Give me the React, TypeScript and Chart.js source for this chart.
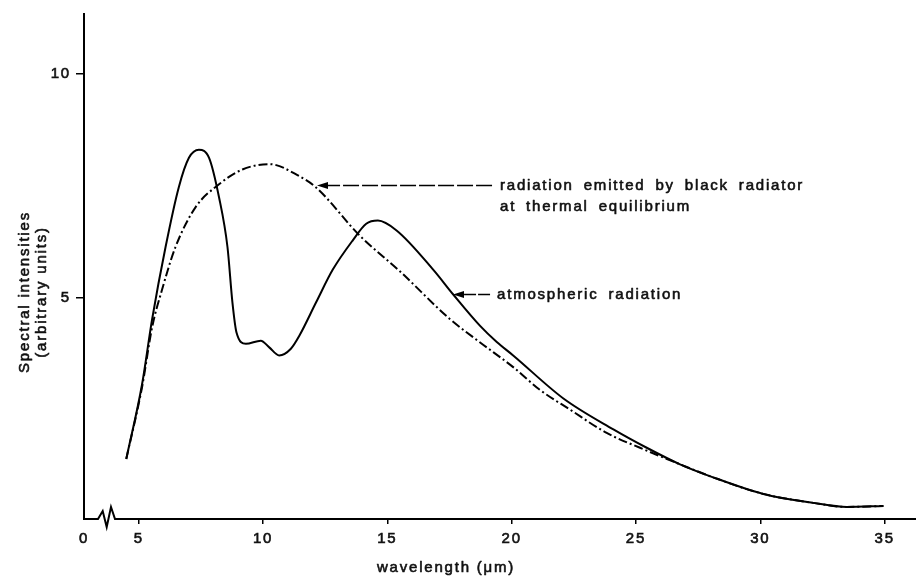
import React, { useEffect, useRef } from "react";
import { Chart, registerables } from "chart.js";

Chart.register(...registerables);

// ---- data ----
const ATMOS_X = [4.5, 5.13, 5.54, 6.08, 6.61, 7.02, 7.42, 7.83, 8.23, 8.57, 8.77, 8.93, 9.31, 9.91, 10.25, 10.65, 11.12, 11.46, 12.13, 12.8, 13.61, 14.15, 14.62, 15.37, 16.85, 17.65, 18.73, 19.4, 20.06, 22.08, 24.09, 25.43, 26.77, 28.1, 30.12, 32.13, 33.48, 34.95];
const ATMOS_Y = [1.41, 3.06, 4.53, 6.14, 7.47, 8.13, 8.31, 8.13, 7.25, 6.14, 4.9, 4.24, 3.98, 4.05, 3.9, 3.72, 3.87, 4.16, 4.9, 5.63, 6.29, 6.66, 6.73, 6.51, 5.63, 5.08, 4.38, 4.02, 3.72, 2.76, 2.07, 1.66, 1.29, 1.0, 0.63, 0.43, 0.34, 0.36];

const BLACK_X = [4.5, 5.13, 5.54, 5.94, 6.48, 7.29, 8.23, 9.17, 10.25, 11.46, 12.13, 13.88, 15.5, 17.52, 18.73, 20.06, 21.14, 22.35, 23.82, 25.16, 26.77, 28.1, 30.12, 32.13, 33.48, 34.95];
const BLACK_Y = [1.41, 3.0, 4.35, 5.19, 6.14, 7.03, 7.54, 7.87, 7.99, 7.72, 7.47, 6.4, 5.6, 4.53, 4.01, 3.46, 2.95, 2.51, 1.99, 1.66, 1.29, 1.0, 0.63, 0.43, 0.34, 0.36];

const X_MIN = 2.8;
const X_MAX = 36.26;
const Y_MIN = 0.07;
const Y_MAX = 11.34;

const X_TICK_VALUES = [X_MIN, 5, 10, 15, 20, 25, 30, 35];
const X_TICK_LABELS = ["0", "5", "10", "15", "20", "25", "30", "35"];
const Y_TICK_VALUES = [5, 10];
const Y_TICK_LABELS = ["5", "10"];

const X_TITLE = "wavelength (\u03bcm)";
const Y_TITLE = ["Spectral intensities", "(arbitrary units)"];

const BLACK_LABEL = ["radiation emitted by black radiator", "at thermal equilibrium"];
const ATMOS_LABEL = ["atmospheric radiation"];

// annotation anchors in data units: arrow tip, arrow tail, text start
const BLACK_NOTE = { tipX: 12.17, tipY: 7.51, tailX: 19.21, textX: 19.53 };
const ATMOS_NOTE = { tipX: 17.64, tipY: 5.08, tailX: 19.13, textX: 19.41 };

const FONT_FAMILY = "'Liberation Sans', Arial, Helvetica, sans-serif";
const INK = "#111";
const TEXT_STROKE = 0.6;

function toPoints(xs: number[], ys: number[]) {
  return xs.map((x, i) => ({ x, y: ys[i] }));
}

function inkText(ctx: CanvasRenderingContext2D, t: string, x: number, y: number) {
  ctx.fillText(t, x, y);
  ctx.strokeText(t, x, y);
}

const decorPlugin = {
  id: "decor",
  beforeDraw(chart: any) {
    const ctx = chart.ctx as any;
    ctx.letterSpacing = "1.8px";
  },
  afterDraw(chart: any) {
    const { ctx, chartArea, scales } = chart;
    const xs = scales.x;
    const ys = scales.y;
    const l = chartArea.left;
    const b = chartArea.bottom;
    ctx.save();
    (ctx as any).letterSpacing = "1.8px";

    // bottom axis with break mark
    ctx.strokeStyle = "#000";
    ctx.lineWidth = 2;
    ctx.lineJoin = "miter";
    ctx.beginPath();
    ctx.moveTo(l - 1, b);
    ctx.lineTo(l + 14, b);
    ctx.lineTo(l + 18.7, b - 8);
    ctx.lineTo(l + 22.7, b + 8);
    ctx.lineTo(l + 27, b - 12);
    ctx.lineTo(l + 31, b);
    ctx.lineTo(chartArea.right, b);
    ctx.stroke();

    ctx.strokeStyle = INK;
    ctx.lineWidth = TEXT_STROKE;
    ctx.lineJoin = "round";

    // annotations
    const drawNote = (note: any, lines: string[], dash: number[]) => {
      const tx = xs.getPixelForValue(note.tipX);
      const ty = ys.getPixelForValue(note.tipY);
      const tail = xs.getPixelForValue(note.tailX);
      const headLen = 11;
      ctx.save();
      ctx.strokeStyle = "#000";
      ctx.lineWidth = 1.5;
      ctx.setLineDash(dash);
      ctx.beginPath();
      ctx.moveTo(tail, ty);
      ctx.lineTo(tx + headLen - 1, ty);
      ctx.stroke();
      ctx.setLineDash([]);
      ctx.fillStyle = "#000";
      ctx.beginPath();
      ctx.moveTo(tx, ty);
      ctx.lineTo(tx + headLen, ty - 3.5);
      ctx.lineTo(tx + headLen, ty + 3.5);
      ctx.closePath();
      ctx.fill();
      ctx.restore();

      const textX = xs.getPixelForValue(note.textX);
      ctx.fillStyle = INK;
      ctx.font = `15px ${FONT_FAMILY}`;
      ctx.textAlign = "left";
      ctx.textBaseline = "middle";
      (ctx as any).wordSpacing = "4px";
      lines.forEach((t, i) => inkText(ctx, t, textX, ty + i * 21));
      (ctx as any).wordSpacing = "0px";
    };
    drawNote(BLACK_NOTE, BLACK_LABEL, [16, 3]);
    drawNote(ATMOS_NOTE, ATMOS_LABEL, [12, 2]);

    // axis titles
    ctx.fillStyle = INK;
    ctx.font = `15px ${FONT_FAMILY}`;
    ctx.textAlign = "center";
    ctx.textBaseline = "middle";
    inkText(ctx, X_TITLE, 446, b + 49);

    ctx.save();
    ctx.translate(25, 292);
    ctx.rotate(-Math.PI / 2);
    Y_TITLE.forEach((t, i) => inkText(ctx, t, 0, i * 17));
    ctx.restore();

    ctx.restore();
  },
};

export default function App() {
  const canvasRef = useRef<HTMLCanvasElement | null>(null);

  useEffect(() => {
    document.body.style.margin = "0";
    const canvas = canvasRef.current;
    if (!canvas) return;

    Chart.defaults.font.family = FONT_FAMILY;
    Chart.defaults.font.size = 15;
    Chart.defaults.color = INK;

    const chart = new Chart(canvas, {
      type: "line",
      data: {
        datasets: [
          {
            label: "atmospheric radiation",
            data: toPoints(ATMOS_X, ATMOS_Y),
            borderColor: "#000",
            borderWidth: 2,
            pointRadius: 0,
            fill: false,
            cubicInterpolationMode: "monotone",
          },
          {
            label: "radiation emitted by black radiator at thermal equilibrium",
            data: toPoints(BLACK_X, BLACK_Y),
            borderColor: "#000",
            borderWidth: 2,
            borderDash: [9, 3, 2, 3],
            pointRadius: 0,
            fill: false,
            cubicInterpolationMode: "monotone",
          },
        ],
      },
      options: {
        animation: false,
        responsive: false,
        devicePixelRatio: 1,
        layout: { padding: { top: 8, right: 0, bottom: 0, left: 0 } },
        plugins: {
          legend: { display: false },
          tooltip: { enabled: false },
          title: { display: false },
        },
        scales: {
          x: {
            type: "linear",
            min: X_MIN,
            max: X_MAX,
            afterBuildTicks: (scale: any) => {
              scale.ticks = X_TICK_VALUES.map((v) => ({ value: v }));
            },
            afterFit: (scale: any) => {
              scale.height = 59;
            },
            ticks: {
              autoSkip: false,
              maxRotation: 0,
              padding: 6,
              color: INK,
              font: { size: 15 },
              textStrokeColor: INK,
              textStrokeWidth: TEXT_STROKE,
              callback: (_v: any, i: number) => X_TICK_LABELS[i],
            },
            grid: {
              drawOnChartArea: false,
              drawTicks: true,
              tickLength: 5,
              lineWidth: 1.5,
              color: (c: any) => (c.index === 0 ? "rgba(0,0,0,0)" : "#000"),
            },
            border: { display: false },
          },
          y: {
            type: "linear",
            min: Y_MIN,
            max: Y_MAX,
            afterBuildTicks: (scale: any) => {
              scale.ticks = Y_TICK_VALUES.map((v) => ({ value: v }));
            },
            afterFit: (scale: any) => {
              scale.width = 84;
            },
            ticks: {
              autoSkip: false,
              padding: 5,
              color: INK,
              font: { size: 15 },
              textStrokeColor: INK,
              textStrokeWidth: TEXT_STROKE,
              callback: (_v: any, i: number) => Y_TICK_LABELS[i],
            },
            grid: {
              drawOnChartArea: false,
              drawTicks: true,
              tickLength: 8,
              lineWidth: 1.5,
              color: "#000",
            },
            border: { display: true, color: "#000", width: 2 },
          },
        },
      },
      plugins: [decorPlugin],
    } as any);

    return () => chart.destroy();
  }, []);

  return (
    <div style={{ width: 916, height: 578, background: "#fff" }}>
      <canvas ref={canvasRef} width={916} height={578} style={{ display: "block" }} />
    </div>
  );
}
